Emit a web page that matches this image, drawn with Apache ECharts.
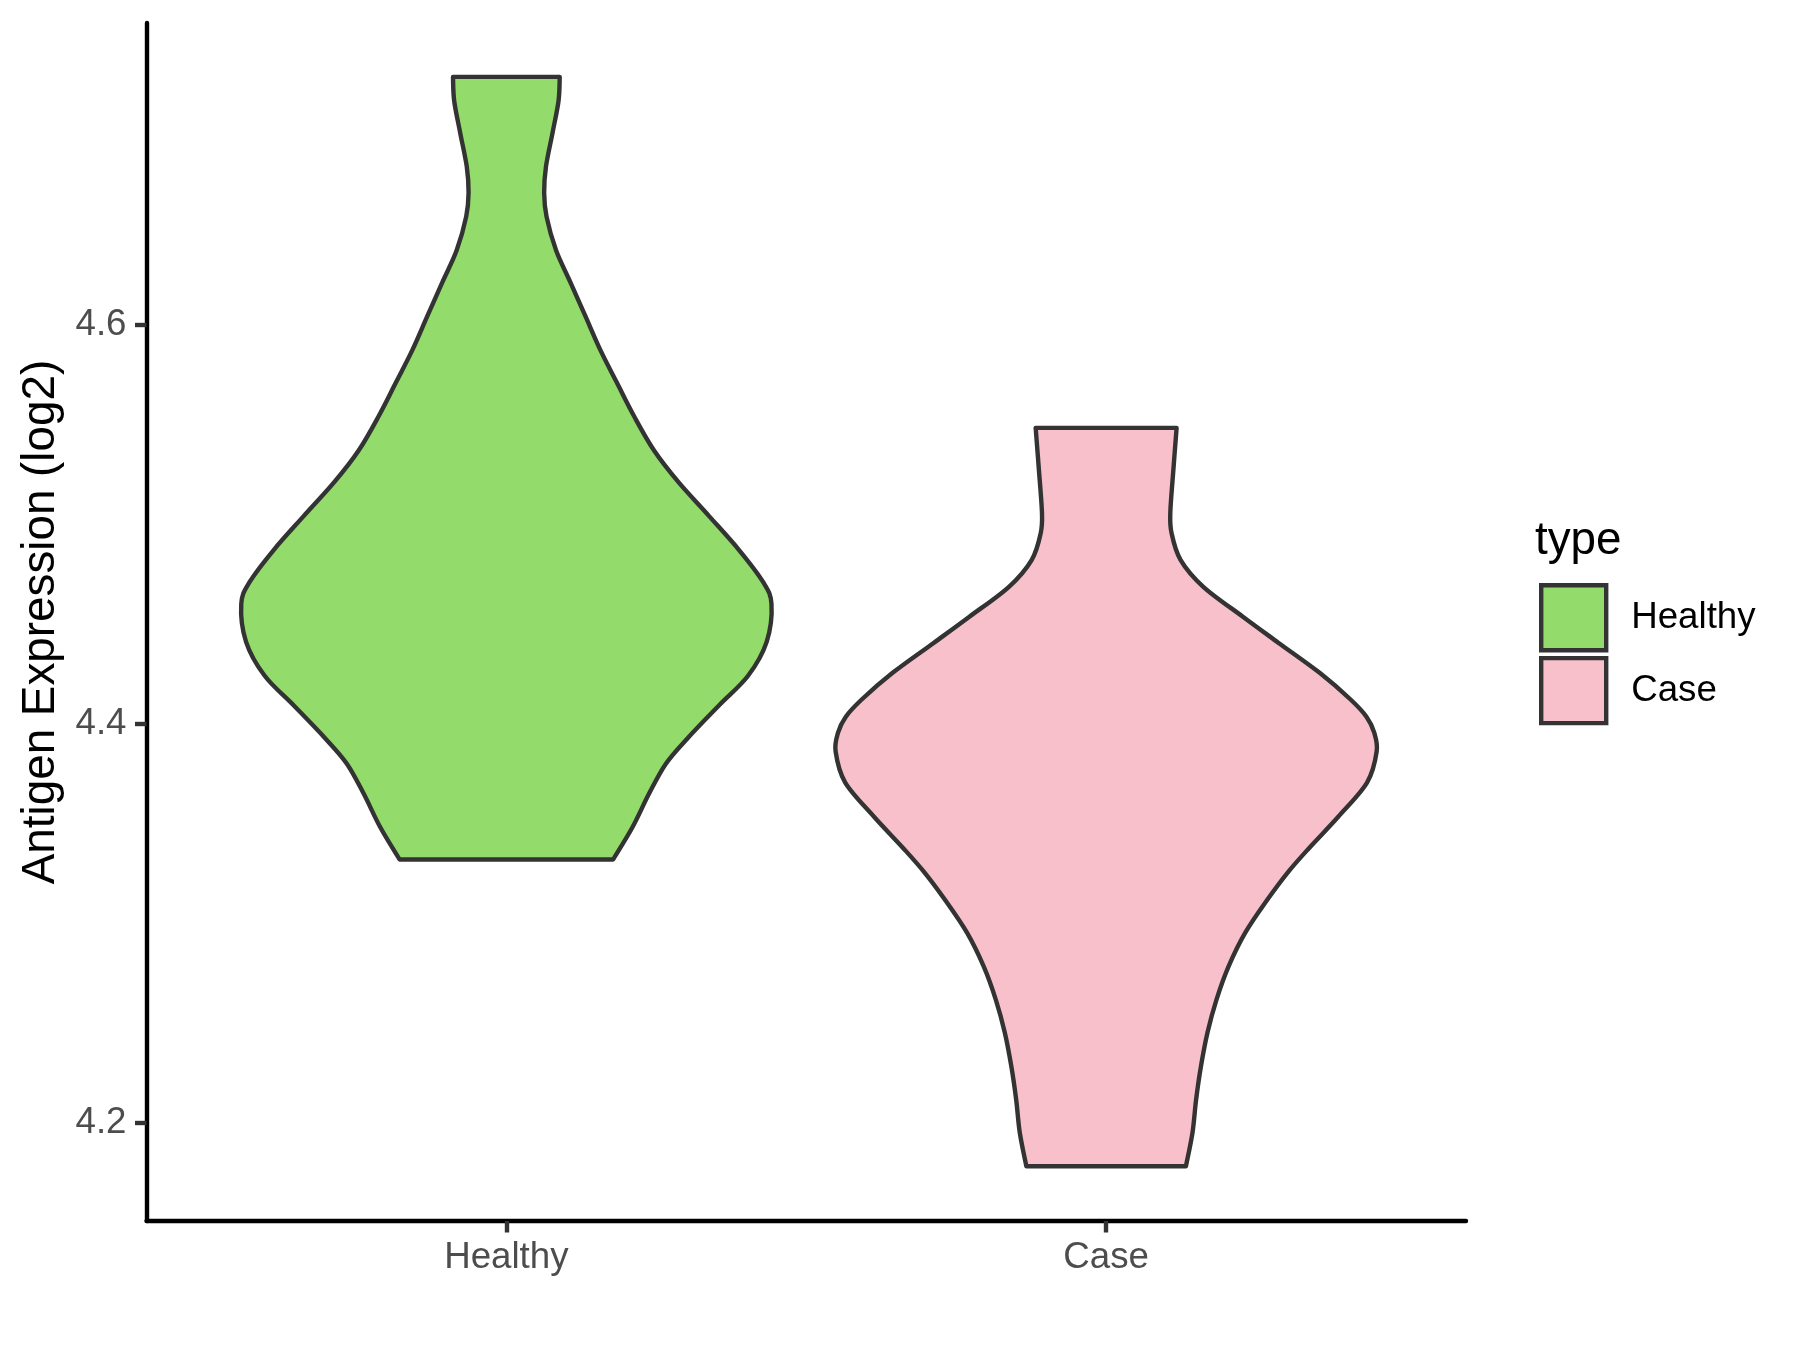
<!DOCTYPE html>
<html>
<head>
<meta charset="utf-8">
<script src="https://cdn.jsdelivr.net/npm/echarts@6/dist/echarts.min.js"></script>
<style>
  html, body { margin: 0; padding: 0; background: #ffffff; }
  #chart { width: 1800px; height: 1350px; }
</style>
</head>
<body>
<div id="chart"></div>
<script>
// ---- data ----
const categories = ['Healthy', 'Case'];
const categoryPos = [1, 2];
const fillColors = ['#93DB6A', '#F8C0CB'];

// violin outline: expression values (log2) and half-width (in category units)
const healthyY = [4.724, 4.712, 4.696, 4.679, 4.666, 4.654, 4.637, 4.621, 4.604, 4.587,
                  4.571, 4.554, 4.537, 4.521, 4.504, 4.487, 4.471, 4.460, 4.441, 4.424,
                  4.409, 4.393, 4.380, 4.365, 4.348, 4.332];
const healthyW = [0.089, 0.087, 0.077, 0.066, 0.063, 0.067, 0.083, 0.107, 0.132, 0.157,
                  0.184, 0.213, 0.246, 0.287, 0.338, 0.388, 0.428, 0.442, 0.434, 0.403,
                  0.354, 0.303, 0.266, 0.238, 0.210, 0.178];

const caseY = [4.5482, 4.5287, 4.5057, 4.4956, 4.4821, 4.4686, 4.4536, 4.4406, 4.4255, 4.4120,
               4.4035, 4.3955, 4.3860, 4.3705, 4.3534, 4.3379, 4.3259, 4.3119, 4.2953, 4.2783,
               4.2618, 4.2453, 4.2282, 4.2117, 4.1952, 4.1783];
const caseW = [0.1175, 0.1125, 0.1070, 0.1090, 0.1240, 0.1620, 0.2280, 0.2870, 0.3560, 0.4080,
               0.4340, 0.4470, 0.4510, 0.4350, 0.3870, 0.3390, 0.3040, 0.2690, 0.2320, 0.2040,
               0.1840, 0.1690, 0.1580, 0.1500, 0.1440, 0.1330];

const yTicks = [4.2, 4.4, 4.6];
const yMin = 4.1509, yMax = 4.7510;
const xMin = 0.4, xMax = 2.6;

const FONT = "'Liberation Sans', Arial, Helvetica, sans-serif";
const LW = 4.4;

function curveThrough(pts) {
  // Catmull-Rom -> cubic bezier segments (drawing only)
  let d = '';
  for (let i = 0; i < pts.length - 1; i++) {
    const p0 = pts[i - 1] || pts[i];
    const p1 = pts[i];
    const p2 = pts[i + 1];
    const p3 = pts[i + 2] || p2;
    const c1x = p1[0] + (p2[0] - p0[0]) / 6, c1y = p1[1] + (p2[1] - p0[1]) / 6;
    const c2x = p2[0] - (p3[0] - p1[0]) / 6, c2y = p2[1] - (p3[1] - p1[1]) / 6;
    d += ' C' + c1x + ',' + c1y + ' ' + c2x + ',' + c2y + ' ' + p2[0] + ',' + p2[1];
  }
  return d;
}

function makeRender(ys, ws, color) {
  return function (params, api) {
    const cx = api.value(0);
    const left = ys.map((y, i) => api.coord([cx - ws[i], y]));
    const right = ys.map((y, i) => api.coord([cx + ws[i], y])).reverse();
    let d = 'M' + left[0][0] + ',' + left[0][1];
    d += curveThrough(left);
    d += ' L' + right[0][0] + ',' + right[0][1];
    d += curveThrough(right);
    d += ' Z';
    return {
      type: 'path',
      shape: { pathData: d },
      style: { fill: color, stroke: '#333333', lineWidth: LW, lineJoin: 'round' }
    };
  };
}

const chart = echarts.init(document.getElementById('chart'), null, { renderer: 'canvas' });

chart.setOption({
  animation: false,
  backgroundColor: '#ffffff',
  grid: { left: 146.5, right: 334, top: 23, bottom: 129, containLabel: false },
  title: {
    text: 'type', left: 1535, top: 518.5, padding: 0,
    textStyle: { fontFamily: FONT, fontSize: 45.8, fontWeight: 'normal', color: '#000000' }
  },
  legend: {
    orient: 'vertical', left: 1539, top: 583, padding: 0,
    itemWidth: 65, itemHeight: 65, itemGap: 3.5,
    data: categories.map(c => ({ name: c, icon: 'rect' })),
    itemStyle: { borderColor: '#333333', borderWidth: LW },
    textStyle: { fontFamily: FONT, fontSize: 36.7, color: '#000000', padding: [0, 0, 0, 20] },
    selectedMode: false
  },
  xAxis: {
    type: 'value', min: xMin, max: xMax,
    splitLine: { show: false },
    axisLine: { show: true, onZero: false, lineStyle: { color: '#000000', width: LW } },
    axisTick: { show: true, length: 11.5, customValues: categoryPos, lineStyle: { color: '#333333', width: LW } },
    axisLabel: {
      show: true, customValues: categoryPos, margin: 18,
      fontFamily: FONT, fontSize: 36.7, color: '#4D4D4D',
      formatter: v => categories[categoryPos.indexOf(Math.round(v))] || ''
    }
  },
  yAxis: {
    type: 'value', min: yMin, max: yMax,
    name: 'Antigen Expression (log2)', nameLocation: 'middle', nameRotate: 90, nameGap: 76,
    nameTextStyle: { fontFamily: FONT, fontSize: 45.8, color: '#000000' },
    splitLine: { show: false },
    axisLine: { show: true, onZero: false, lineStyle: { color: '#000000', width: LW } },
    axisTick: { show: true, length: 11.5, customValues: yTicks, lineStyle: { color: '#333333', width: LW } },
    axisLabel: {
      show: true, customValues: yTicks, margin: 20,
      fontFamily: FONT, fontSize: 36.7, color: '#4D4D4D',
      formatter: v => v.toFixed(1)
    }
  },
  series: [
    {
      type: 'custom', name: categories[0], coordinateSystem: 'cartesian2d',
      itemStyle: { color: fillColors[0] },
      encode: { x: 0, y: 1 },
      data: [[categoryPos[0], healthyY[0]]],
      renderItem: makeRender(healthyY, healthyW, fillColors[0])
    },
    {
      type: 'custom', name: categories[1], coordinateSystem: 'cartesian2d',
      itemStyle: { color: fillColors[1] },
      encode: { x: 0, y: 1 },
      data: [[categoryPos[1], caseY[0]]],
      renderItem: makeRender(caseY, caseW, fillColors[1])
    }
  ]
});
</script>
</body>
</html>
